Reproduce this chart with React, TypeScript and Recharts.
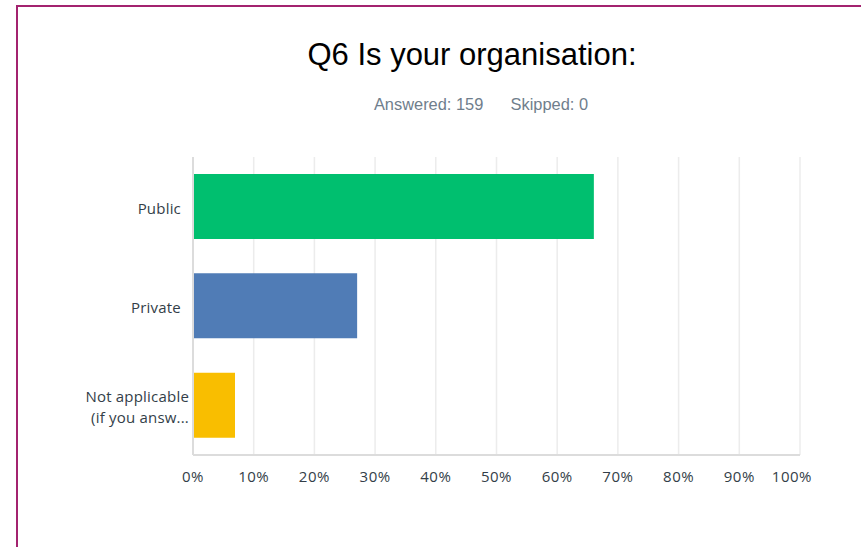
import { BarChart, Bar, XAxis, YAxis, CartesianGrid, Cell } from "recharts";

const categories = ["Public", "Private", "Not applicable\n(if you answ..."];
const shares = [66.04, 27.04, 6.92];
const barColors = ["#00bf6f", "#507cb6", "#f9be00"];
const xTicks = [0, 10, 20, 30, 40, 50, 60, 70, 80, 90, 100];

const data = categories.map((name, i) => ({ name, value: shares[i] }));

function CategoryTick(props: any) {
  const { x, y, payload } = props;
  const lines: string[] = String(payload.value).split("\n");
  const lineHeight = 21;
  const start = -((lines.length - 1) * lineHeight) / 2 + 2;
  // wrapped labels sit a little further right in the original
  const tx = lines.length > 1 ? x + 8 : x;
  return (
    <text
      x={tx}
      y={y}
      textAnchor="end"
      fill="#333e48"
      fontSize={15}
      letterSpacing={0.2}
      fontFamily="'Open Sans', sans-serif"
    >
      {lines.map((line, i) => (
        <tspan key={i} x={tx} y={y + start + i * lineHeight} dy="0.35em">
          {line}
        </tspan>
      ))}
    </text>
  );
}

function PercentTick(props: any) {
  const { x, y, payload } = props;
  const last = payload.value === xTicks[xTicks.length - 1];
  return (
    <text
      x={last ? x + 12 : x}
      y={y}
      dy="0.71em"
      textAnchor={last ? "end" : "middle"}
      fill="#333e48"
      fontSize={15}
      letterSpacing={0.5}
      fontFamily="'Open Sans', sans-serif"
    >
      {`${payload.value}%`}
    </text>
  );
}

export default function App() {
  return (
    <div
      style={{
        position: "fixed",
        left: 0,
        top: 0,
        width: 861,
        height: 547,
        overflow: "hidden",
        background: "#fff",
      }}
    >
      <div
        style={{
          position: "absolute",
          left: 16,
          top: 5,
          width: 900,
          height: 600,
          borderLeft: "2px solid #a3236f",
          borderTop: "2px solid #a3236f",
        }}
      />
      <div
        style={{
          position: "absolute",
          left: 0,
          width: 944,
          top: 37,
          textAlign: "center",
          fontFamily: "'Liberation Sans', Arial, sans-serif",
          fontSize: 31,
          color: "#000",
        }}
      >
        Q6 Is your organisation:
      </div>
      <div
        style={{
          position: "absolute",
          left: 0,
          width: 962,
          top: 95,
          textAlign: "center",
          fontFamily: "'Liberation Sans', Arial, sans-serif",
          fontSize: 16.4,
          color: "#6f7e8c",
        }}
      >
        Answered: 159&nbsp;&nbsp;&nbsp;&nbsp;&nbsp;&nbsp;Skipped: 0
      </div>
      <div style={{ position: "absolute", left: 0, top: 0 }}>
        <BarChart
          width={861}
          height={547}
          data={data}
          layout="vertical"
          margin={{ top: 157, right: 61, bottom: 62, left: 0 }}
          barSize={65}
        >
          <CartesianGrid horizontal={false} stroke="#ececec" strokeWidth={1.5} />
          <XAxis
            type="number"
            domain={[0, 100]}
            ticks={xTicks}
            axisLine={{ stroke: "#dcdcdc", strokeWidth: 2 }}
            tickLine={false}
            tickSize={0}
            tickMargin={16}
            height={30}
            tick={<PercentTick />}
            interval={0}
          />
          <YAxis
            type="category"
            dataKey="name"
            width={193}
            axisLine={{ stroke: "#dcdcdc", strokeWidth: 2 }}
            tickLine={false}
            tickSize={0}
            tickMargin={12}
            tick={<CategoryTick />}
            interval={0}
          />
          <Bar dataKey="value" isAnimationActive={false}>
            {data.map((d, i) => (
              <Cell key={d.name} fill={barColors[i]} />
            ))}
          </Bar>
        </BarChart>
      </div>
    </div>
  );
}
